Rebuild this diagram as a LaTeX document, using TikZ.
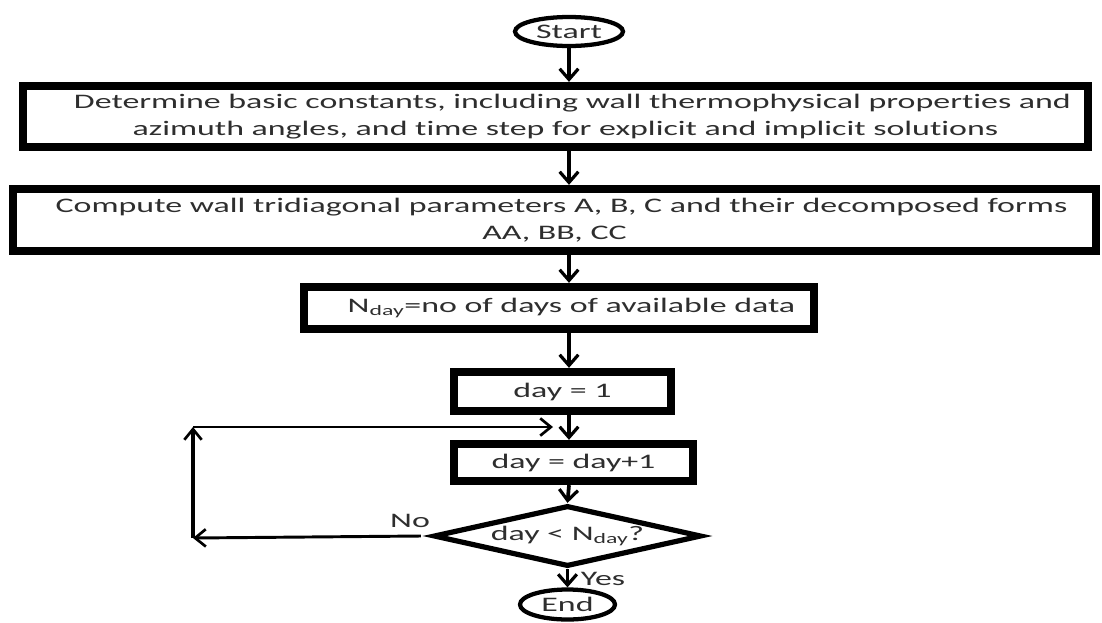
\documentclass[tikz,border=0pt]{standalone}
\usepackage{fontspec}
\setmainfont{Carlito}[FakeStretch=1.64,Ligatures=NoCommon]
\usetikzlibrary{shapes.geometric,arrows.meta}
\begin{document}
\begin{tikzpicture}[x=0.75pt,y=-0.75pt,font=\fontsize{15.5}{20.25}\selectfont,
  box/.style={draw=black,line width=6.25pt,rectangle,inner sep=0pt,align=center,text=ink},
  terminal/.style={draw=black,line width=3.2pt,ellipse,inner sep=0pt,text=ink},
  decision/.style={draw=black,line width=3.9pt,diamond,aspect=4.4,inner sep=0pt,text=ink},
  flow/.style={line width=2.8pt,-{Straight Barb[length=8pt,width=14pt,line width=2.4pt]}},
  back/.style={line width=2.2pt,-{Straight Barb[length=8pt,width=13pt,line width=2pt]}},
  tag/.style={inner sep=0pt,text=ink}]
\definecolor{ink}{HTML}{2E2E2E}
\useasboundingbox (0,0) rectangle (1102,622);
\node[terminal,minimum width=81pt,minimum height=21.75pt] (start) at (569,31.5) {Start};
\node[box,minimum width=798.75pt,minimum height=45.75pt] (determine) at (555.5,116.5) {\hspace*{25.5pt}Determine basic constants, including wall thermophysical properties and\\\hspace*{15pt}azimuth angles, and time step for explicit and implicit solutions};
\node[box,minimum width=812.25pt,minimum height=46.5pt] (compute) at (554.5,220) {\hspace*{10.5pt}Compute wall tridiagonal parameters A, B, C and their decomposed forms\\AA, BB, CC};
\node[box,minimum width=382.5pt,minimum height=31.5pt] (nday) at (559,308) {\hspace*{18.75pt}N\textsubscript{day}=no of days of available data};
\node[box,minimum width=162.75pt,minimum height=29.25pt] (dayinit) at (562.5,391.5) {day = 1};
\node[box,minimum width=179.25pt,minimum height=27.75pt] (dayinc) at (573.5,462.5) {day = day+1};
\node[decision,minimum width=201pt,minimum height=45.75pt] (check) at (567.5,536) {day < N\textsubscript{day}?};
\node[terminal,minimum width=71.25pt,minimum height=22.5pt] (stop) at (567.5,604.5) {End};
\node[tag] (no) at (410,521) {No};
\node[tag] (yes) at (603,579) {Yes};
\coordinate (loopbot) at (193,538);
\coordinate (looptop) at (193,427);
\coordinate (loopin) at (553,427);
\draw[flow] (start.south) -- (start.south |- determine.north);
\draw[flow] (determine.south -| start) -- (compute.north -| start);
\draw[flow] (compute.south -| start) -- (nday.north -| start);
\draw[flow] (nday.south -| start) -- (dayinit.north -| start);
\draw[flow] (dayinit.south -| start) -- (dayinc.north -| start);
\draw[flow] (dayinc.south -| start) -- (check.north);
\draw[flow] (check.south) -- (stop.north);
\draw[back] ([xshift=-7.5pt]check.west) -- (loopbot);
\draw[back,line width=3.5pt] (loopbot) -- (looptop);
\draw[back] (looptop) -- (loopin);
\end{tikzpicture}
\end{document}
